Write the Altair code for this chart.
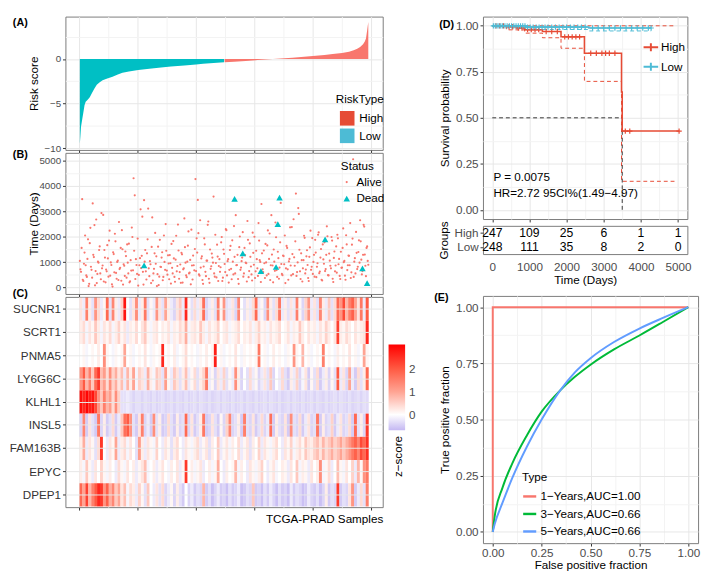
import altair as alt
import pandas as pd

FONT = "Liberation Sans"
RED_A, CYAN_A = "#F8766D", "#00BFC4"
RED_D, CYAN_D = "#E64B35", "#4DBBD5"
GRID_MAJOR, GRID_MINOR = "#e6e6e6", "#f3f3f3"

# ---------------- (A) risk score (samples sorted by risk) ----------------
low_idx = [1, 2, 3, 5, 7, 9, 11, 14, 18, 22, 26, 30, 35, 40, 48, 57, 66, 74, 85, 101, 120, 140, 157, 180, 200, 212, 230, 248]
low_score = [-9.5, -8.6, -7.6, -6.8, -6.0, -5.2, -4.8, -4.6, -4.3, -3.8, -3.3, -2.9, -2.6, -2.4, -2.2, -2.0, -1.75, -1.55,
             -1.4, -1.25, -1.1, -0.97, -0.85, -0.72, -0.62, -0.55, -0.45, -0.37]
high_idx = [249, 265, 285, 305, 325, 345, 365, 380, 400, 420, 434, 450, 462, 470, 476, 481, 486, 489, 491, 492, 493, 494, 495]
high_score = [-0.36, -0.3, -0.23, -0.13, -0.03, 0.05, 0.14, 0.22, 0.33, 0.45, 0.55, 0.68, 0.82, 0.98, 1.15, 1.35, 1.65,
              1.95, 2.3, 2.75, 3.2, 3.7, 4.15]
risk_types = ["High", "Low"]

# ---------------- (B) survival time per sample ----------------
alive_time_odd = [
    1050, 620, 3480, 260, 1380, 880, 420, 1900, 150, 2350, 700, 3310, 1200, 90, 2680, 540, 980, 1620, 330, 760,
    2860, 1480, 210, 640, 1150, 1850, 470, 890, 40, 1320, 2120, 580, 1010, 300, 730, 1560, 2260, 120, 860, 1420,
    390, 980, 1730, 250, 670, 1990, 4300, 3630, 1120, 540, 80, 880, 3080, 1250, 620, 3440, 1480, 320, 1900, 760,
    1040, 180, 2760, 560, 1350, 940, 60, 1610, 430, 820, 1180, 290, 2050, 700, 1450, 510, 950, 1280, 160, 780,
    1830, 420, 1100, 640, 2480, 350, 910, 1370, 200, 760, 1590, 480, 1020, 2210, 590, 130, 870, 1260, 680, 4270,
    1940, 3450, 520, 2650, 1150, 300, 830, 1700, 450, 1060, 2600, 190, 740, 1340, 980, 560, 2080, 400, 1220, 850,
    620, 1780, 260, 1500, 930, 2300, 480, 1120, 700, 1640, 330, 1020, 2420, 560, 880, 1290, 150, 2010, 790, 1180,
    430, 1560, 980, 240, 1880, 650, 1210, 520, 2160, 900, 380, 1450, 760, 2540, 1080, 220, 1350, 610, 960, 1720,
    480, 2250, 1130, 300, 2850, 870, 1500, 660, 1980, 420, 1160, 790, 3330, 540, 1260, 920, 180, 1640, 720, 1030,
    2370, 480, 1320, 2690, 860, 3700, 610, 3130, 1490, 340, 1080, 760, 2040, 560, 1230, 890, 260, 1580, 700, 1950,
    1010, 430, 1380, 820, 2080, 570, 1180, 310, 1700, 940, 650, 1290, 2020, 480, 1060, 760, 1850, 220, 1420, 870,
    590, 1940, 1130, 340, 780, 1560, 1000, 470, 2060, 690, 1260, 880, 380, 1690, 5050, 1020, 560, 1370, 820, 1860,
    2650, 1100, 650, 2470, 1300, 450, 1620, 900]
alive_time_even = [
    720, 1560, 310, 940, 2050, 480, 1130, 60, 1750, 820, 390, 1290, 2460, 650, 180, 1020, 1480, 560, 2930, 870,
    240, 1180, 710, 1670, 430, 2240, 990, 130, 1390, 600, 1820, 350, 1060, 2580, 780, 270, 1510, 920, 460, 1240,
    1700, 560, 210, 1080, 2360, 680, 1450, 340, 890, 1930, 500, 1160, 770, 2790, 120, 1020, 640, 1350, 3110, 450,
    920, 1600, 280, 740, 2150, 1230, 530, 100, 1880, 810, 1390, 420, 1010, 2500, 670, 1270, 330, 960, 1720, 560,
    1150, 230, 2040, 850, 1460, 610, 190, 1310, 720, 2720, 980, 410, 1650, 560, 1090, 2280, 320, 880, 1520, 650,
    1380, 2140, 470, 790, 1230, 150, 1940, 620, 1060, 2470, 350, 1500, 840, 1180, 3580, 430, 970, 1690, 260, 1120,
    800, 1990, 390, 1330, 610, 2260, 1040, 200, 1480, 740, 1860, 520, 1210, 2850, 890, 340, 1590, 700, 1040, 2180,
    560, 1280, 960, 2620, 410, 1740, 830, 280, 1370, 2000, 640, 1120, 460, 1850, 1010, 3290, 720, 1460, 380, 990,
    1660, 540, 2130, 880, 1300, 210, 1020, 2560, 690, 1410, 350, 1780, 930, 490, 1240, 2050, 760, 1560, 310, 1130,
    870, 2380, 530, 1190, 1820, 460, 990, 2900, 640, 1350, 240, 1080, 1960, 710, 1470, 380, 1210, 2240, 820, 540,
    1290, 1880, 410, 960, 2170, 630, 1520, 280, 1110, 1780, 730, 2410, 490, 1340, 860, 1990, 350, 1170, 640, 1620,
    2080, 920, 460, 1410, 790, 2330, 1050, 310, 1700, 880, 1250, 2540, 600, 1930, 420, 1160, 2190, 730, 1400, 980,
    1820, 520, 1290, 2400, 860, 1560, 1050]
alive_idx = list(range(1, 496, 2)) + list(range(2, 495, 2))
alive_time = alive_time_odd + alive_time_even
dead_idx = [111, 266, 280, 311, 337, 340, 343, 421, 485, 493]
dead_time = [875, 3490, 1350, 650, 810, 2500, 3540, 1900, 760, 180]

# ---------------- (C) z-scores, 99 bins of 5 samples ----------------
genes = ["SUCNR1", "SCRT1", "PNMA5", "LY6G6C", "KLHL1", "INSL5", "FAM163B", "EPYC", "DPEP1"]
z_SUCNR1 = [0.3, -0.2, 1.5, 0.2, -0.3, 1.2, 0.4, -0.2, 0.1, 1.8, -0.3, 1.4, 0.2, -0.2, 0.5, 2.8, 0.0, -0.3, 0.3, 1.3,
            -0.2, 0.2, 1.6, -0.3, 0.1, -0.2, 1.2, 0.3, -0.3, 1.0, 0.2, -0.2, -0.4, 0.3, 0.6, -0.2, 2.6, 0.1, -0.3, 0.4,
            -0.2, 0.3, 1.7, -0.4, -0.2, 0.2, -0.3, 1.5, 0.1, 1.2, -0.3, -0.2, 0.3, -0.4, 1.4, 0.0, -0.3, 0.2, -0.2, 0.4,
            1.8, -0.2, 0.1, -0.4, 1.3, 0.2, -0.3, 0.4, 1.6, -0.2, 0.2, -0.3, 0.3, -0.2, 1.5, 0.1, -0.4, 0.5, 1.2, -0.2,
            0.3, -0.3, 1.4, 0.2, -0.2, 0.6, -0.3, 0.4, 1.8, 1.2, 2.2, 0.8, 1.5, 1.9, 1.0, 0.3, 1.6, -0.2, 2.0]
z_SCRT1 = [0.2, 0.4, -0.1, 0.3, 0.1, 0.6, 0.2, -0.1, 0.3, 0.1, 0.4, -0.1, 0.2, 0.5, 0.1, 0.3, -0.2, 0.2, 0.1, 0.4,
           0.0, 0.3, 0.6, 0.1, -0.1, 0.2, 0.3, 0.0, 0.2, 0.1, 0.3, -0.1, 0.2, 0.1, 0.4, 0.2, 0.9, -0.1, 0.2, 0.3,
           0.1, 0.6, 0.2, -0.1, 0.3, 0.1, 0.2, 0.5, 0.0, 0.2, 0.3, -0.1, 0.1, 0.2, 0.4, 0.0, 0.2, 0.1, 0.3, -0.1,
           0.2, 0.5, 0.1, 0.2, -0.1, 0.3, 0.1, 0.2, 0.4, 0.0, 0.1, 0.3, -0.1, 0.2, 0.1, 0.6, 0.2, 0.0, 0.3, 0.1,
           0.2, -0.1, 0.3, 0.1, 0.5, 0.2, 0.0, 0.3, 2.3, 0.2, 0.1, 0.4, 0.2, 0.0, 0.3, 0.1, 0.2, 0.3, 2.6]
z_PNMA5 = [0.0, 0.1, -0.1, 0.0, 0.1, 0.0, 0.2, 0.0, 1.3, 0.1, 0.0, -0.1, 0.1, 0.0, 0.1, 1.0, 0.0, 0.1, -0.1, 0.0,
           0.1, 0.0, 0.3, 0.0, -0.1, 0.1, 0.0, 0.1, 2.6, 0.0, 0.1, 0.0, 0.2, -0.1, 0.0, 0.1, 0.4, 0.0, 0.1, 0.0,
           -0.1, 0.1, 0.0, 0.2, 0.0, 0.1, 2.7, 0.0, 0.1, -0.1, 0.0, 0.1, 0.0, 0.3, 0.0, -0.1, 0.1, 0.0, 0.1, 0.0,
           0.1, 1.6, 0.0, 0.1, -0.1, 0.0, 0.2, 0.0, 0.1, 0.0, -0.1, 0.1, 0.0, 1.2, 0.1, 0.0, 0.8, 0.0, 0.1, -0.1,
           0.0, 0.1, 0.0, 1.5, 0.0, 0.1, 0.0, -0.1, 0.2, 0.0, 0.1, 0.0, 0.3, 0.0, 0.1, -0.1, 0.0, 1.0, 0.1]
z_LY6G6C = [1.2, 2.0, 0.8, 1.5, 0.6, 1.8, 2.4, 0.7, 1.1, 0.4, 1.3, 0.5, 0.9, 0.3, 0.7, -0.2, 0.8, 0.2, 1.0, -0.1,
            0.5, 0.3, -0.2, 0.9, 0.2, -0.1, 0.6, 0.4, -0.3, 1.1, 0.1, -0.2, 0.6, 0.3, -0.3, 0.2, 0.7, -0.2, 0.1, 0.4,
            -0.3, 0.2, 0.5, 1.6, -0.2, 0.1, -0.4, 0.3, -0.2, 0.5, -0.3, 0.1, -0.2, 1.3, 0.2, -0.4, 0.0, -0.3, 0.4, -0.2,
            0.1, -0.4, -0.2, 0.3, -0.3, 0.6, -0.4, 0.0, -0.2, 0.4, -0.3, -0.5, 0.2, -0.2, 0.5, -0.4, -0.1, 0.3, -0.5, 0.1,
            -0.3, 0.4, -0.5, -0.2, 0.2, -0.4, 0.1, -0.3, 2.0, -0.2, 0.3, -0.4, 1.0, -0.2, -0.5, 0.4, -0.3, 0.2, 1.8]
z_KLHL1 = [2.9, 2.6, 3.0, 2.7, 2.8, 2.2, 1.2, 0.6, 1.5, 0.8, 1.1, 0.4, 1.3, 0.5, -0.3, -0.3, -0.2, -0.3, -0.4, -0.3,
           -0.3, -0.4, -0.3, -0.35, -0.4, -0.3, -0.4, -0.35, -0.3, -0.4, -0.35, -0.3, -0.4, -0.3, -0.35, -0.4, -0.3, -0.4, -0.35, -0.3,
           -0.4, -0.3, -0.35, -0.4, -0.3, -0.4, -0.35, -0.3, -0.4, -0.3, -0.35, -0.4, -0.3, -0.4, -0.35, -0.3, -0.4, -0.3, -0.35, -0.4,
           -0.3, -0.4, -0.35, -0.3, -0.4, -0.3, -0.35, -0.4, -0.3, -0.4, -0.35, -0.3, -0.4, -0.3, -0.35, -0.4, -0.3, -0.4, -0.35, -0.3,
           -0.4, -0.3, -0.35, -0.4, -0.3, -0.4, -0.35, -0.3, -0.4, -0.3, -0.35, -0.4, -0.3, -0.4, -0.35, -0.3, -0.4, -0.3, -0.35]
z_INSL5 = [-0.4, 1.4, -0.5, 0.3, -0.3, -0.5, 1.6, -0.4, 0.2, -0.5, -0.3, 0.4, -0.5, -0.2, 0.6, 1.7, 2.0, 1.2, -0.3, -0.5,
           0.3, 1.5, -0.4, -0.2, -0.5, 1.3, -0.3, 0.2, -0.5, -0.4, 0.4, -0.3, -0.5, 0.2, -0.4, -0.3, 1.8, -0.4, 0.3, -0.5,
           -0.3, 0.2, 1.6, -0.5, -0.4, 0.3, -0.3, -0.5, 0.1, -0.4, 0.5, 1.4, -0.4, -0.3, 0.2, -0.5, 1.5, -0.3, -0.4, 0.3,
           -0.5, -0.3, 0.4, -0.4, -0.2, 1.7, -0.5, 0.2, -0.3, -0.4, 0.3, -0.5, 1.3, -0.3, -0.4, 0.4, -0.5, -0.2, 0.3, -0.4,
           -0.3, 1.6, -0.5, 0.2, -0.4, -0.3, 0.5, -0.5, -0.2, 0.3, -0.4, -0.3, 0.4, -0.5, 1.8, -0.3, 0.2, -0.4, 2.4]
z_FAM163B = [0.2, 0.9, -0.2, 0.3, 0.1, -0.3, 0.4, 2.4, 0.0, -0.2, 0.3, 0.1, 1.0, -0.2, 0.2, 0.4, -0.1, 0.3, 0.0, -0.3,
             1.1, 0.2, -0.2, 0.3, 0.1, -0.1, 0.5, 0.0, -0.2, 0.3, 0.1, -0.3, 0.2, 0.4, 0.0, -0.2, 0.3, 0.1, -0.1, 0.2,
             0.4, -0.2, 0.1, 0.3, -0.3, 0.2, 0.0, 0.6, -0.2, 0.1, 0.3, -0.1, 0.2, 0.0, 0.4, -0.2, 0.1, 0.3, -0.3, 0.2,
             0.0, 0.5, -0.2, 0.3, 0.1, -0.1, 0.2, 0.4, 0.0, -0.2, 0.3, 0.1, 0.5, -0.1, 0.2, 0.4, 0.1, 0.6, 0.3, 0.2,
             0.5, 0.7, 0.3, 0.8, 0.4, 0.6, 0.9, 0.5, 0.7, 1.0, 0.6, 0.9, 1.2, 1.6, 1.9, 1.4, 2.2, 1.8, 2.5]
z_EPYC = [0.2, -0.1, 0.6, 0.1, -0.2, 0.3, 0.0, 0.5, 0.1, -0.1, 0.2, 0.0, -0.2, 0.4, 0.1, -0.1, 0.3, 0.0, 0.2, -0.2,
          0.1, 0.3, 0.7, -0.1, 0.0, 0.2, -0.2, 0.1, 0.3, 0.0, -0.1, 0.2, 0.0, 0.3, -0.2, 0.1, 2.4, 0.0, 0.2, -0.1,
          0.1, 0.3, -0.2, 0.0, 0.2, -0.1, 0.1, 0.9, 0.0, -0.2, 0.2, 0.0, 0.1, 0.8, -0.1, 0.2, 0.0, -0.2, 0.3, 0.1,
          -0.1, 0.2, 0.5, 0.0, -0.2, 0.1, 0.3, -0.1, 0.0, 0.2, 0.1, -0.2, 0.3, 0.0, 0.6, -0.1, 0.2, 0.1, -0.2, 0.3,
          0.0, 0.2, 1.3, -0.1, 0.1, 0.4, -0.2, 0.0, 0.7, 0.1, -0.1, 0.3, 0.0, 0.5, -0.2, 0.8, 0.1, 1.2, 1.6]
z_DPEP1 = [1.8, 1.0, 2.3, 0.8, 1.5, 2.0, 2.6, 2.4, 1.2, 1.9, 0.9, 1.4, 0.6, 1.0, 0.3, 0.7, -0.1, 0.4, 0.2, -0.2,
           0.5, 0.1, -0.3, 0.6, 0.0, -0.2, 0.3, -0.3, 0.4, -0.4, -0.2, 0.1, -0.4, 0.2, -0.3, -0.5, 0.0, -0.4, -0.2, -0.5,
           -0.3, -0.4, 0.8, -0.5, -0.3, -0.6, -0.4, -0.2, -0.5, -0.4, -0.6, -0.3, -0.5, -0.4, -0.2, -0.6, -0.5, -0.3, -0.4, 0.6,
           -0.5, -0.4, -0.6, -0.3, -0.5, -0.2, -0.4, -0.6, -0.3, -0.5, -0.4, -0.6, -0.2, -0.5, -0.3, -0.4, -0.6, -0.5, -0.2, -0.4,
           -0.5, -0.3, -0.6, -0.4, 0.2, -0.5, -0.3, -0.4, 2.4, -0.5, -0.3, -0.4, 0.3, 1.2, -0.5, -0.2, 0.4, -0.3, 1.5]
heat_vals = [z_SUCNR1, z_SCRT1, z_PNMA5, z_LY6G6C, z_KLHL1, z_INSL5, z_FAM163B, z_EPYC, z_DPEP1]

# ---------------- (D) Kaplan-Meier ----------------
km_high_t = [0, 380, 650, 870, 1350, 1850, 2480, 3478, 3497, 5027]
km_high_s = [1.0, 0.995, 0.988, 0.979, 0.969, 0.94, 0.851, 0.64, 0.428, 0.428]
km_low_t = [0, 900, 2600, 4275]
km_low_s = [1.0, 0.993, 0.988, 0.988]
ci_high_lo_t = [0, 380, 870, 1350, 1850, 2480, 3478, 4940]
ci_high_lo_s = [1.0, 0.978, 0.96, 0.935, 0.878, 0.698, 0.155, 0.155]
ci_high_up_t = [0, 4950]
ci_high_up_s = [1.0, 1.0]
ci_low_lo_t = [0, 900, 2600, 4275]
ci_low_lo_s = [1.0, 0.98, 0.972, 0.972]
cens_high_t = [100, 200, 300, 450, 550, 700, 800, 950, 1050, 1150, 1250, 1450, 1600, 1750, 1950, 2050, 2150, 2250, 2350,
               2650, 2800, 2950, 3050, 3150, 3300, 3580, 3700, 5027]
cens_high_s = [1.0, 1.0, 1.0, 0.995, 0.995, 0.988, 0.988, 0.979, 0.979, 0.979, 0.979, 0.969, 0.969, 0.969, 0.94, 0.94, 0.94,
               0.94, 0.94, 0.851, 0.851, 0.851, 0.851, 0.851, 0.851, 0.428, 0.428, 0.428]
cens_low_t = [30, 80, 130, 180, 230, 280, 340, 400, 460, 520, 580, 640, 700, 760, 820, 880, 950, 1020, 1100, 1180, 1260,
              1340, 1420, 1500, 1600, 1700, 1800, 1900, 2000, 2100, 2200, 2300, 2400, 2500, 2700, 2850, 3000, 3150, 3300,
              3450, 3600, 3750, 3900, 4050, 4200, 4275]
cens_low_s = [1.0] * 16 + [0.993] * 18 + [0.988] * 12
median_t = [0, 3497, 3497]
median_s = [0.5, 0.5, 0.0]
table_t = [0, 1000, 2000, 3000, 4000, 5000]
table_high = [247, 109, 25, 6, 1, 1]
table_low = [248, 111, 35, 8, 2, 0]

# ---------------- (E) ROC ----------------
roc_types = ["1−Years,AUC=1.00", "3−Years,AUC=0.66", "5−Years,AUC=0.66"]
roc1_fpr = [0, 0, 1]
roc1_tpr = [0, 1, 1]
roc3_fpr = [0, 0.01, 0.05, 0.1, 0.175, 0.25, 0.345, 0.42, 0.5, 0.62, 0.75, 0.87, 1.0]
roc3_tpr = [0, 0.07, 0.197, 0.305, 0.43, 0.535, 0.63, 0.69, 0.744, 0.812, 0.874, 0.934, 1.0]
roc5_fpr = [0, 0.01, 0.05, 0.1, 0.175, 0.25, 0.345, 0.42, 0.5, 0.62, 0.75, 0.87, 1.0]
roc5_tpr = [0, 0.035, 0.13, 0.24, 0.38, 0.5, 0.63, 0.71, 0.773, 0.845, 0.905, 0.952, 1.0]

quarter_vals = [0, 0.125, 0.25, 0.375, 0.5, 0.625, 0.75, 0.875, 1.0]


# ---------------- helpers ----------------
def cond(test, a, b):
    return {"condition": {"test": test, "value": a}, "value": b}


def lin_axis(values, test, labels=True, title=None, fmt=None, **kw):
    args = dict(values=values, tickOpacity=cond(test, 1, 0), gridColor=cond(test, GRID_MAJOR, GRID_MINOR),
                grid=True, labelOverlap=False, title=title)
    if labels:
        args["labelExpr"] = f"({test}) ? datum.label : ''"
        if fmt:
            args["format"] = fmt
    else:
        args["labels"] = False
    args.update(kw)
    return alt.Axis(**args)


def plabel(txt, x, y):
    return alt.Chart(pd.DataFrame({"t": [txt]})).mark_text(
        align="left", baseline="top", fontSize=11, fontWeight="bold", font=FONT, color="black"
    ).encode(x=alt.value(x), y=alt.value(y), text="t:N")


T100 = "datum.value % 100 === 0"
T4 = "abs(datum.value*4 - round(datum.value*4)) < 0.001"
xS = alt.Scale(domain=[-23.7, 519.7], nice=False, zero=False)
x_ticks = list(range(0, 501, 50))

# ---------------- panel A ----------------
dfA = pd.DataFrame({"sample": low_idx + high_idx, "score": low_score + high_score,
                    "type": ["Low"] * len(low_idx) + ["High"] * len(high_idx)})
areaA = alt.Chart(dfA).mark_area(interpolate="linear").encode(
    x=alt.X("sample:Q", scale=xS, axis=lin_axis(x_ticks, T100, labels=False)),
    y=alt.Y("score:Q", scale=alt.Scale(domain=[-10.2, 4.75], nice=False, zero=False),
            axis=lin_axis([-10, -7.5, -5, -2.5, 0, 2.5], "datum.value % 5 === 0", title="Risk score",
                          minExtent=22, maxExtent=22)),
    y2=alt.datum(0),
    color=alt.Color("type:N", scale=alt.Scale(domain=risk_types, range=[RED_A, CYAN_A]), legend=None),
)
# key-only layer: the legend swatches use a deeper palette than the bars (as in the reference)
legA = alt.Chart(pd.DataFrame({"RiskType": risk_types})).mark_square(size=1, opacity=1, filled=True).encode(
    x=alt.value(286), y=alt.value(104),
    color=alt.Color("RiskType:N", scale=alt.Scale(domain=risk_types, range=[RED_D, CYAN_D]),
                    legend=alt.Legend(title="RiskType", orient="none", legendX=278, legendY=80, titleAnchor="end",
                                      symbolSize=225, symbolType="square", rowPadding=3, titlePadding=5,
                                      labelOffset=5, symbolStrokeWidth=0))
)
A = alt.layer(areaA, legA, plabel("(A)", -54, 1)).resolve_scale(color="independent").properties(width=326, height=137)

# ---------------- panel B ----------------
dfB = pd.DataFrame({"sample": alive_idx + dead_idx, "time": alive_time + dead_time,
                    "status": ["Alive"] * len(alive_idx) + ["Dead"] * len(dead_idx)})
legB = alt.Legend(title="Status", orient="none", legendX=283, legendY=9, rowPadding=5, titlePadding=3, labelOffset=4)
ptsB = alt.Chart(dfB).mark_point(filled=True, opacity=1).encode(
    x=alt.X("sample:Q", scale=xS, axis=lin_axis(x_ticks, T100, labels=False)),
    y=alt.Y("time:Q", scale=alt.Scale(domain=[-250, 5300], nice=False, zero=False),
            axis=lin_axis(list(range(0, 5001, 500)), "datum.value % 1000 === 0", title="Time (Days)", fmt="d",
                          minExtent=22, maxExtent=22)),
    color=alt.Color("status:N", scale=alt.Scale(domain=["Alive", "Dead"], range=[RED_A, CYAN_A]), legend=legB),
    shape=alt.Shape("status:N", scale=alt.Scale(domain=["Alive", "Dead"], range=["circle", "triangle-up"]), legend=legB),
    size=alt.Size("status:N", scale=alt.Scale(domain=["Alive", "Dead"], range=[5, 45]), legend=legB),
)
B = alt.layer(ptsB, plabel("(B)", -54, -4)).properties(width=326, height=145)

# ---------------- panel C ----------------
rows = []
for g, vals in zip(genes, heat_vals):
    for b, v in enumerate(vals):
        rows.append({"gene": g, "x0": 5 * b + 0.5, "x1": 5 * b + 5.7, "z": v})
dfC = pd.DataFrame(rows)
heat = alt.Chart(dfC).mark_rect().encode(
    x=alt.X("x0:Q", scale=xS, axis=lin_axis(x_ticks, T100, labels=False, title="TCGA-PRAD Samples",
                                             titleAnchor="end", titlePadding=3)),
    x2="x1:Q",
    y=alt.Y("gene:N", sort=genes, scale=alt.Scale(paddingInner=0, paddingOuter=0.03),
            axis=alt.Axis(title=None, labelFontSize=12, labelColor="#333333", grid=True, gridColor=GRID_MAJOR,
                          bandPosition=0.5)),
    color=alt.Color("z:Q", scale=alt.Scale(domain=[-0.68, 0, 1, 2, 3.06],
                                           range=["#c4b8f2", "#ffffff", "#ffa493", "#ff5a43", "#ff0000"],
                                           interpolate="rgb"),
                    legend=alt.Legend(title=None, orient="none", legendX=332, legendY=49, direction="vertical",
                                      gradientLength=88, gradientThickness=17, values=[0, 1, 2],
                                      labelFontSize=12, labelColor="#4d4d4d", labelOffset=4,
                                      gradientStrokeWidth=0)),
)
zlab = alt.Chart(pd.DataFrame({"t": ["z−score"]})).mark_text(angle=270, fontSize=12, font=FONT, color="black").encode(
    x=alt.value(342), y=alt.value(164), text="t:N")
C = alt.layer(heat, zlab, plabel("(C)", -54, -9)).properties(width=326, height=216)

# ---------------- panel D ----------------
xD = alt.X("t:Q", scale=alt.Scale(domain=[-250, 5250], nice=False, zero=False),
           axis=lin_axis(list(range(0, 5001, 500)), "datum.value % 1000 === 0", labels=False))
yD = alt.Y("s:Q", scale=alt.Scale(domain=[-0.05, 1.05], nice=False, zero=False),
           axis=lin_axis(quarter_vals, T4, title="Survival probability", fmt=".2f", labelFontSize=12))

dfKM = pd.DataFrame({"t": km_high_t + km_low_t, "s": km_high_s + km_low_s,
                     "group": ["High"] * len(km_high_t) + ["Low"] * len(km_low_t)})
km = alt.Chart(dfKM).mark_line(interpolate="step-after", strokeWidth=1.6).encode(
    x=xD, y=yD,
    color=alt.Color("group:N", scale=alt.Scale(domain=["High", "Low"], range=[RED_D, CYAN_D]),
                    legend=alt.Legend(title=None, orient="none", legendX=164, legendY=23,
                                      symbolType="M-1,0L1,0M0,-0.55L0,0.55", symbolSize=225,
                                      symbolStrokeWidth=2, rowPadding=3, labelOffset=2)),
)


def dashed(ts, ss, col):
    return alt.Chart(pd.DataFrame({"t": ts, "s": ss})).mark_line(
        interpolate="step-after", strokeDash=[4, 3], strokeWidth=1, color=col).encode(x=xD, y=yD)


PLUS = "M-1,0L1,0M0,-1L0,1"


def cens(ts, ss, col):
    return alt.Chart(pd.DataFrame({"t": ts, "s": ss})).mark_point(
        shape=PLUS, filled=False, size=30, strokeWidth=1.2, color=col, opacity=1).encode(x=xD, y=yD)


med = alt.Chart(pd.DataFrame({"t": median_t, "s": median_s, "o": [0, 1, 2]})).mark_line(
    strokeDash=[4, 3], strokeWidth=1, color="#333333").encode(x=xD, y=yD, order="o:Q")
ann = alt.Chart(pd.DataFrame({"t": [30, 30], "s": [0.18, 0.09],
                              "lab": ["P = 0.0075", "HR=2.72 95CI%(1.49−4.97)"]})).mark_text(
    align="left", baseline="middle", fontSize=12, font=FONT, color="black").encode(x=xD, y=yD, text="lab:N")

D = alt.layer(
    dashed(ci_high_lo_t, ci_high_lo_s, RED_D), dashed(ci_high_up_t, ci_high_up_s, RED_D),
    dashed(ci_low_lo_t, ci_low_lo_s, CYAN_D), med, km,
    cens(cens_high_t, cens_high_s, RED_D), cens(cens_low_t, cens_low_s, CYAN_D), ann,
    plabel("(D)", -45, 3)
).properties(width=210, height=208)

# ---------------- risk table ----------------
dfT = pd.DataFrame({"t": table_t * 2, "group": ["High"] * 6 + ["Low"] * 6, "n": table_high + table_low})
Dtab = alt.Chart(dfT).mark_text(fontSize=12.5, font=FONT, color="black").encode(
    x=alt.X("t:Q", scale=alt.Scale(domain=[-250, 5250], nice=False, zero=False),
            axis=alt.Axis(values=table_t, title="Time (Days)", ticks=False, grid=False, labelFontSize=12,
                          labelPadding=8, titlePadding=2, format="d")),
    y=alt.Y("group:N", sort=["High", "Low"], scale=alt.Scale(type="point", padding=0.5),
            axis=alt.Axis(title="Groups", labelFontSize=12, grid=False)),
    text="n:Q",
).properties(width=210, height=29)

# ---------------- panel E ----------------
xE = alt.X("fpr:Q", scale=alt.Scale(domain=[-0.05, 1.05], nice=False, zero=False),
           axis=lin_axis(quarter_vals, T4, title="False positive fraction", fmt=".2f", labelFontSize=12,
                         titlePadding=1))
yE = alt.Y("tpr:Q", scale=alt.Scale(domain=[-0.05, 1.05], nice=False, zero=False),
           axis=lin_axis(quarter_vals, T4, title="True positive fraction", fmt=".2f", labelFontSize=12))
legE = alt.Legend(title="Type", orient="none", legendX=40, legendY=181, symbolType="stroke", symbolSize=180,
                  symbolStrokeWidth=2.5, rowPadding=4, titlePadding=5, labelOffset=3)
colE = alt.Color("type:N", scale=alt.Scale(domain=roc_types, range=["#F8766D", "#00BA38", "#619CFF"]), legend=legE)
df1 = pd.DataFrame({"fpr": roc1_fpr, "tpr": roc1_tpr, "type": roc_types[0], "o": list(range(len(roc1_fpr)))})
df35 = pd.DataFrame({"fpr": roc3_fpr + roc5_fpr, "tpr": roc3_tpr + roc5_tpr,
                     "type": [roc_types[1]] * len(roc3_fpr) + [roc_types[2]] * len(roc5_fpr),
                     "o": list(range(len(roc3_fpr))) + list(range(len(roc5_fpr)))})
roc1 = alt.Chart(df1).mark_line(strokeWidth=2).encode(x=xE, y=yE, color=colE, order="o:Q")
roc35 = alt.Chart(df35).mark_line(strokeWidth=2, interpolate="monotone").encode(x=xE, y=yE, color=colE, order="o:Q")
E = alt.layer(roc1, roc35, plabel("(E)", -50, -4)).properties(width=221, height=254)

# ---------------- layout ----------------
IND = dict(color="independent", fill="independent", shape="independent", size="independent")
left = alt.vconcat(A, B, C, spacing=3, bounds="flush").resolve_scale(**IND)
top_right = alt.vconcat(D, Dtab, spacing=7, bounds="flush").resolve_scale(**IND)
right = alt.vconcat(top_right, E, spacing=5).resolve_scale(**IND)
chart = alt.hconcat(left, right, spacing=17).resolve_scale(**IND).properties(padding=0)

chart = chart.configure(font=FONT).configure_view(stroke="#7a7a7a", strokeWidth=1).configure_axis(
    labelFont=FONT, titleFont=FONT, labelFontSize=10, titleFontSize=12, titleFontWeight="normal",
    labelColor="#4d4d4d", titleColor="black", domain=False, tickColor="#333333", tickSize=3,
    labelPadding=2, titlePadding=4, gridColor=GRID_MAJOR
).configure_legend(
    labelFont=FONT, titleFont=FONT, titleFontWeight="normal", titleFontSize=12, labelFontSize=12,
    titleColor="black", labelColor="black"
)

chart.save("out.html", embed_options={"renderer": "svg", "actions": False})
